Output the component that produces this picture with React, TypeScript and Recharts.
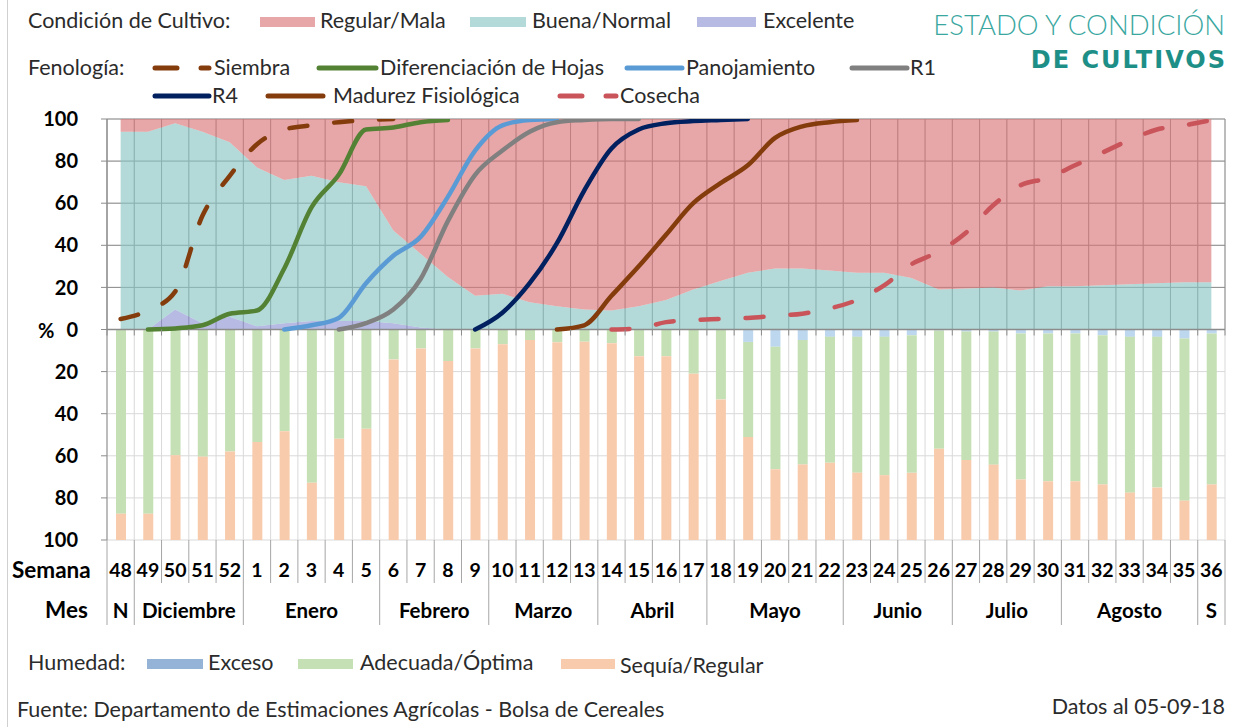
import { ComposedChart, Area, Bar, Line, XAxis, YAxis, CartesianGrid, ReferenceLine } from "recharts";

const weeks = ["48", "49", "50", "51", "52", "1", "2", "3", "4", "5", "6", "7", "8", "9", "10", "11", "12", "13", "14", "15", "16", "17", "18", "19", "20", "21", "22", "23", "24", "25", "26", "27", "28", "29", "30", "31", "32", "33", "34", "35", "36"];
const monthNames = ["N", "Diciembre", "Enero", "Febrero", "Marzo", "Abril", "Mayo", "Junio", "Julio", "Agosto", "S"];
const monthSpans = [1, 4, 5, 4, 4, 4, 5, 4, 4, 5, 1];
const yTicks = [-100, -80, -60, -40, -20, 0, 20, 40, 60, 80, 100];

// condición de cultivo (%)
const excelente = [0, 0, 9.5, 3, 6, 1.5, 3, 4, 4, 4, 3, 1, 0, 0, 0, 0, 0, 0, 0, 0, 0, 0, 0, 0, 0, 0, 0, 0, 0, 0, 0, 0, 0, 0, 0, 0, 0, 0, 0, 0, 0];
const buenaNormal = [94, 94, 88.5, 91, 83, 75.5, 68, 69, 66, 64, 44, 35, 25, 16, 17, 13, 11, 9.5, 9, 11, 14, 19, 23, 27, 29, 29, 28, 27, 27, 24.5, 19, 19.5, 20, 18.5, 20.5, 20.5, 21, 21.5, 22, 22.5, 22.5];
const regularMala = [6, 6, 2, 6, 11, 23, 29, 27, 30, 32, 53, 64, 75, 84, 83, 87, 89, 90.5, 91, 89, 86, 81, 77, 73, 71, 71, 72, 73, 73, 75.5, 81, 80.5, 80, 81.5, 79.5, 79.5, 79, 78.5, 78, 77.5, 77.5];

// fenología (% avance)
const siembra = [5, 9, 18, 54, 73, 88, 95, 97, 98.5, 99.5, 100, null, null, null, null, null, null, null, null, null, null, null, null, null, null, null, null, null, null, null, null, null, null, null, null, null, null, null, null, null, null];
const difHojas = [null, 0, 0.5, 2, 7.5, 9, 29, 58, 73.5, 95, 96, 98.5, 99.5, null, null, null, null, null, null, null, null, null, null, null, null, null, null, null, null, null, null, null, null, null, null, null, null, null, null, null, null];
const panojamiento = [null, null, null, null, null, null, 0, 2, 5.5, 22, 35, 44, 63, 85, 97, 99.5, 100, null, null, null, null, null, null, null, null, null, null, null, null, null, null, null, null, null, null, null, null, null, null, null, null];
const r1 = [null, null, null, null, null, null, null, null, 0, 3, 9.5, 24, 51.5, 73.5, 85, 94, 98.5, 99.5, 100, 100, null, null, null, null, null, null, null, null, null, null, null, null, null, null, null, null, null, null, null, null, null];
const r4 = [null, null, null, null, null, null, null, null, null, null, null, null, null, 0, 8, 22, 41, 66, 86, 95, 98, 99, 99.5, 100, null, null, null, null, null, null, null, null, null, null, null, null, null, null, null, null, null];
const madurez = [null, null, null, null, null, null, null, null, null, null, null, null, null, null, null, null, 0, 2, 16, 30, 45, 60, 69.5, 78, 91, 96.5, 98.5, 99.5, null, null, null, null, null, null, null, null, null, null, null, null, null];
const cosecha = [null, null, null, null, null, null, null, null, null, null, null, null, null, null, null, null, null, null, 0, 0.5, 3.5, 4.5, 5, 5.5, 6.5, 7.5, 10, 14, 21, 31, 37, 46, 59, 68.5, 72, 78, 84, 90, 95, 97, 99.5];

// humedad (%)
const exceso = [0, 0, 0, 0, 0, 0, 0, 0, 0, 0, 0, 0, 0, 0, 0, 0, 0, 0, 0, 0, 0, 0, 0, 5.9, 8.2, 5, 3.5, 3.5, 3.5, 2.7, 0.5, 1, 1, 1.9, 1.9, 1.9, 2.7, 3.5, 3.5, 4.3, 1.9];
const adecuada = [87.5, 87.5, 59.7, 60.4, 58, 53.5, 48.3, 72.8, 51.9, 47.1, 14.2, 9, 15, 9, 7, 5, 6, 5.8, 6.5, 12.7, 12.7, 21, 33.2, 45.2, 58.2, 59.1, 59.8, 64.5, 65.7, 65.4, 56.1, 61, 63.2, 69.4, 70.2, 70.2, 70.9, 74, 71.6, 77, 71.7];
const sequia = [12.5, 12.5, 40.3, 39.6, 42, 46.5, 51.7, 27.2, 48.1, 52.9, 85.8, 91, 85, 91, 93, 95, 94, 94.2, 93.5, 87.3, 87.3, 79, 66.8, 48.9, 33.6, 35.9, 36.7, 32, 30.8, 31.9, 43.4, 38, 35.8, 28.7, 27.9, 27.9, 26.4, 22.5, 24.9, 18.7, 26.4];

const data = weeks.map((week, i) => ({
  week,
  excelente: excelente[i],
  buena: buenaNormal[i],
  regular: regularMala[i],
  siembra: siembra[i],
  difHojas: difHojas[i],
  panojamiento: panojamiento[i],
  r1: r1[i],
  r4: r4[i],
  madurez: madurez[i],
  cosecha: cosecha[i],
  exceso: -exceso[i],
  adecuada: -adecuada[i],
  sequia: -sequia[i],
}));

const W = 1235;
const H = 727;
const PLOT_LEFT = 107;
const PLOT_RIGHT = 1225;
const PLOT_TOP = 119;
const PLOT_BOTTOM = 540;
const ZERO_Y = (PLOT_TOP + PLOT_BOTTOM) / 2;
const BAND = (PLOT_RIGHT - PLOT_LEFT) / weeks.length;
const FONT = "Lato, 'Noto Sans', sans-serif";
const TEXT = "#2B2B2B";
const AXIS = "#8C8C8C";

const monthStarts: number[] = [];
monthSpans.reduce((acc, n) => {
  monthStarts.push(acc);
  return acc + n;
}, 0);

function WeekTick(props: any) {
  const { x, payload } = props;
  const i = props.index ?? payload.index;
  const left = x - BAND / 2;
  const right = x + BAND / 2;
  const m = monthStarts.indexOf(i);
  const isMonthEnd = monthStarts.includes(i + 1) || i === weeks.length - 1;
  return (
    <g>
      <line x1={left} x2={left} y1={ZERO_Y} y2={ZERO_Y + 6} stroke={AXIS} />
      {i === weeks.length - 1 && <line x1={right} x2={right} y1={ZERO_Y} y2={ZERO_Y + 6} stroke={AXIS} />}
      <text x={x} y={577} textAnchor="middle" fontFamily={FONT} fontWeight={700} fontSize={19.5} fill="#000">
        {payload.value}
      </text>
      <line x1={right} x2={right} y1={PLOT_BOTTOM} y2={isMonthEnd ? 625 : 583} stroke="#A6A6A6" />
      {i === 0 && <line x1={left} x2={left} y1={PLOT_BOTTOM} y2={625} stroke="#A6A6A6" />}
      {m >= 0 && (
        <text x={x + ((monthSpans[m] - 1) * BAND) / 2} y={618} textAnchor="middle" fontFamily={FONT} fontWeight={700} fontSize={20.5} fill="#000">
          {monthNames[m]}
        </text>
      )}
    </g>
  );
}

const boundaries = ({ offset }: any) => {
  const l = offset?.left ?? PLOT_LEFT;
  const w = offset?.width ?? PLOT_RIGHT - PLOT_LEFT;
  return Array.from({ length: weeks.length + 1 }, (_, k) => l + (k * w) / weeks.length);
};

const topRows = ({ offset }: any) => {
  const t = offset?.top ?? PLOT_TOP;
  const h = offset?.height ?? PLOT_BOTTOM - PLOT_TOP;
  return [0, 1, 2, 3, 4].map((k) => t + (k * h) / 10);
};

function Swatch({ left, width, color, top }: { left: number; width: number; color: string; top: number }) {
  return <div style={{ position: "absolute", left, top, width, height: 10, background: color }} />;
}

function LineSwatch({ left, width, color, top, dashed }: { left: number; width: number; color: string; top: number; dashed?: boolean }) {
  return (
    <svg style={{ position: "absolute", left, top: top - 5 }} width={width} height={10}>
      <line x1={3} x2={width - 3} y1={5} y2={5} stroke={color} strokeWidth={5} strokeLinecap="round" strokeDasharray={dashed ? "22 24" : undefined} />
    </svg>
  );
}

function Label({ left, top, children, size = 21.5, weight = 400, color = TEXT, right, spacing, family }: any) {
  return (
    <div
      style={{
        position: "absolute",
        left,
        right,
        top,
        transform: "translateY(-50%)",
        fontSize: size,
        fontWeight: weight,
        fontFamily: family,
        color,
        letterSpacing: spacing,
        whiteSpace: "nowrap",
        lineHeight: 1,
      }}
    >
      {children}
    </div>
  );
}

export default function App() {
  return (
    <div style={{ position: "absolute", left: 0, top: 0, width: W, height: H, background: "#fff", fontFamily: FONT, overflow: "hidden" }}>
      <div style={{ position: "absolute", left: 7, top: 0, width: 1, height: H, background: "#D0D0D0" }} />

      {/* condición de cultivo */}
      <Label left={28} top={21}>Condición de Cultivo:</Label>
      <Swatch left={260} width={55} top={17} color="#E7A6A8" />
      <Label left={320} top={21}>Regular/Mala</Label>
      <Swatch left={470} width={56} top={17} color="#B3DAD8" />
      <Label left={532} top={21}>Buena/Normal</Label>
      <Swatch left={697} width={59} top={17} color="#B7BBE4" />
      <Label left={763} top={21}>Excelente</Label>

      {/* fenología */}
      <Label left={28} top={68}>Fenología:</Label>
      <LineSwatch left={152} width={60} top={68} color="#843C0C" dashed />
      <Label left={214} top={68}>Siembra</Label>
      <LineSwatch left={316} width={63} top={68} color="#548235" />
      <Label left={380} top={68}>Diferenciación de Hojas</Label>
      <LineSwatch left={624} width={61} top={68} color="#5B9BD5" />
      <Label left={686} top={68}>Panojamiento</Label>
      <LineSwatch left={849} width={61} top={68} color="#808080" />
      <Label left={910} top={68}>R1</Label>
      <LineSwatch left={152} width={60} top={96} color="#002060" />
      <Label left={212} top={96}>R4</Label>
      <LineSwatch left={265} width={61} top={96} color="#843C0C" />
      <Label left={333} top={96}>Madurez Fisiológica</Label>
      <LineSwatch left={557} width={62} top={96} color="#C9545A" dashed />
      <Label left={620} top={96}>Cosecha</Label>

      {/* título */}
      <Label right={10} top={25} size={27.5} weight={300} color="#3AA79F">ESTADO Y CONDICIÓN</Label>
      <Label right={8} top={60} size={24} weight={700} color="#1E8F87" spacing={2} family="'DejaVu Sans', sans-serif">DE CULTIVOS</Label>

      <ComposedChart
        width={W}
        height={H}
        data={data}
        margin={{ top: PLOT_TOP, right: W - PLOT_RIGHT, bottom: H - PLOT_BOTTOM - 30, left: PLOT_LEFT - 60 }}
        style={{ position: "absolute", left: 0, top: 0 }}
      >
        <CartesianGrid stroke="#D9D9D9" verticalCoordinatesGenerator={boundaries} />
        <CartesianGrid
          stroke="#8C8C8C"
          y={PLOT_TOP}
          height={ZERO_Y - PLOT_TOP}
          verticalCoordinatesGenerator={boundaries}
          horizontalCoordinatesGenerator={topRows}
        />
        <XAxis dataKey="week" interval={0} height={30} axisLine={false} tickLine={false} tick={(p: any) => <WeekTick {...p} />} />
        <YAxis
          width={60}
          domain={[-100, 100]}
          ticks={yTicks}
          allowDataOverflow
          tickFormatter={(v: number) => String(Math.abs(v))}
          tick={{ fontSize: 20, fontWeight: 700, fill: "#000", fontFamily: FONT }}
          tickSize={6}
          tickMargin={23}
          stroke={AXIS}
        />
        <Area dataKey="excelente" stackId="c" type="linear" stroke="none" fill="#9096D6" fillOpacity={0.65} isAnimationActive={false} />
        <Area dataKey="buena" stackId="c" type="linear" stroke="none" fill="#8AC6C3" fillOpacity={0.65} isAnimationActive={false} />
        <Area dataKey="regular" stackId="c" type="linear" stroke="none" fill="#DA7679" fillOpacity={0.65} isAnimationActive={false} />
        <Bar dataKey="exceso" stackId="h" barSize={10} fill="#BDD7EE" isAnimationActive={false} />
        <Bar dataKey="adecuada" stackId="h" barSize={10} fill="#C5E0B4" isAnimationActive={false} />
        <Bar dataKey="sequia" stackId="h" barSize={10} fill="#F8CBAD" isAnimationActive={false} />
        <ReferenceLine y={0} stroke={AXIS} strokeWidth={1.5} />
        <Line dataKey="siembra" type="monotone" stroke="#843C0C" strokeWidth={4.5} strokeDasharray="18 27" strokeLinecap="round" dot={false} activeDot={false} isAnimationActive={false} />
        <Line dataKey="difHojas" type="monotone" stroke="#548235" strokeWidth={4.5} strokeLinecap="round" dot={false} activeDot={false} isAnimationActive={false} />
        <Line dataKey="panojamiento" type="monotone" stroke="#5B9BD5" strokeWidth={4.5} strokeLinecap="round" dot={false} activeDot={false} isAnimationActive={false} />
        <Line dataKey="r1" type="monotone" stroke="#808080" strokeWidth={4.5} strokeLinecap="round" dot={false} activeDot={false} isAnimationActive={false} />
        <Line dataKey="r4" type="monotone" stroke="#002060" strokeWidth={4.5} strokeLinecap="round" dot={false} activeDot={false} isAnimationActive={false} />
        <Line dataKey="madurez" type="monotone" stroke="#843C0C" strokeWidth={4.5} strokeLinecap="round" dot={false} activeDot={false} isAnimationActive={false} />
        <Line dataKey="cosecha" type="monotone" stroke="#C9545A" strokeWidth={4.5} strokeDasharray="18 27" strokeLinecap="round" dot={false} activeDot={false} isAnimationActive={false} />
      </ComposedChart>

      <Label left={38} top={330} size={20} weight={700} color="#000">%</Label>
      <Label left={12} top={570} size={22.5} weight={700} color="#000">Semana</Label>
      <Label left={45} top={610} size={22.5} weight={700} color="#000">Mes</Label>

      {/* humedad */}
      <Label left={28} top={663}>Humedad:</Label>
      <Swatch left={147} width={56} top={659} color="#95B3D7" />
      <Label left={208} top={663}>Exceso</Label>
      <Swatch left={298} width={55} top={659} color="#C5E0B4" />
      <Label left={360} top={663}>Adecuada/Óptima</Label>
      <Swatch left={561} width={54} top={659} color="#F8CBAD" />
      <Label left={620} top={666}>Sequía/Regular</Label>

      <Label left={17} top={710}>Fuente: Departamento de Estimaciones Agrícolas - Bolsa de Cereales</Label>
      <Label right={10} top={707}>Datos al 05-09-18</Label>
    </div>
  );
}
